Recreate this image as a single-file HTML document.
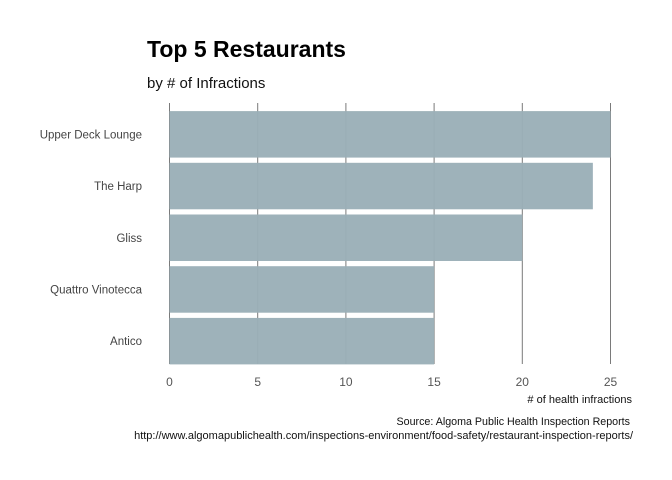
<!DOCTYPE html>
<html><head><meta charset="utf-8"><style>body{margin:0;background:#fff}svg{display:block;font-family:"Liberation Sans",sans-serif}</style></head>
<body>
<svg id="c" width="672" height="480">
<text x="147" y="57" font-size="23" font-weight="bold" fill="#000">Top 5 Restaurants</text>
<text x="147" y="88" font-size="15" fill="#111">by # of Infractions</text>
<g id="grid"></g><g id="bars"></g><g id="labels"></g>
<text x="632" y="403" font-size="11" text-anchor="end" fill="#111"># of health infractions</text>
<text x="630" y="425" font-size="10.7" text-anchor="end" fill="#111">Source: Algoma Public Health Inspection Reports</text>
<text x="633" y="439" font-size="11" text-anchor="end" fill="#111">http://www.algomapublichealth.com/inspections-environment/food-safety/restaurant-inspection-reports/</text>
</svg>
<script>
const categories=["Upper Deck Lounge","The Harp","Gliss","Quattro Vinotecca","Antico"];
const values=[25,24,20,15,15];
const ticks=[0,5,10,15,20,25];
const NS="http://www.w3.org/2000/svg";
const x=v=>169.5+v*(441/25);
const bandTop=108.5,band=51.7,barH=46.5;
const y=i=>bandTop+i*band+(band-barH)/2;
function mk(t,a,p){const e=document.createElementNS(NS,t);for(const k in a)e.setAttribute(k,a[k]);p.appendChild(e);return e;}
const g=document.getElementById('grid'),b=document.getElementById('bars'),l=document.getElementById('labels');
ticks.forEach(t=>{
 const ln=mk('line',{x1:x(t),x2:x(t),y1:103,y2:364,stroke:'#7a7a7a','stroke-width':1},g);
 
 
 const tx=mk('text',{x:x(t),y:386,'font-size':12,'text-anchor':'middle',fill:'#555'},l);
 tx.textContent=t;
 
 
});
categories.forEach((c,i)=>{
 const r=mk('rect',{x:x(0),y:y(i),width:x(values[i])-x(0),height:barH,fill:'#9aafb7','fill-opacity':0.96},b);
 
 
 const tx=mk('text',{x:142,y:y(i)+barH/2+4,'font-size':11.5,'text-anchor':'end',fill:'#444'},l);
 tx.textContent=c;
 
 
});
</script>
</body></html>
